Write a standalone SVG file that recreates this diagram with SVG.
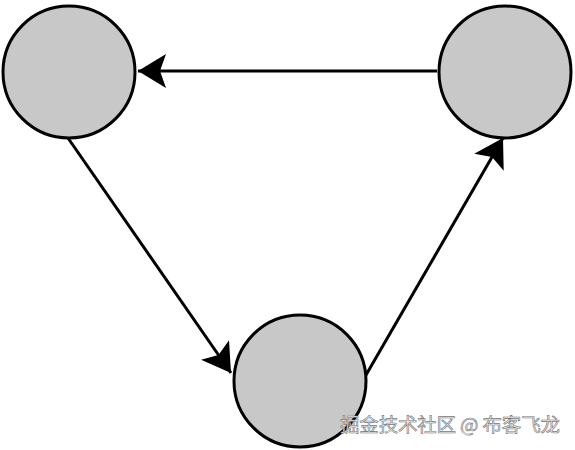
<svg xmlns="http://www.w3.org/2000/svg" width="575" height="450" viewBox="0 0 575 450">
<style>
.node{fill:#c8c8c8;stroke:#000;stroke-width:3}
.edge{fill:none;stroke:#000;stroke-width:3}
.wm{font-family:"Noto Sans CJK SC","Liberation Sans",sans-serif;font-size:19.5px;fill:#ececec;stroke:#777;stroke-width:0.6}
</style>
<defs>
<marker id="dart" markerUnits="userSpaceOnUse" markerWidth="40" markerHeight="40" viewBox="-30 -20 40 40" refX="0" refY="0" orient="auto">
<path d="M0,0 L-28,-17 L-22,0 L-28,17 Z" fill="#000"/>
</marker>
</defs>
<rect width="575" height="450" fill="#fff"/>
<g id="edges">
<line class="edge" x1="437" y1="71" x2="138" y2="71" marker-end="url(#dart)"/>
<line class="edge" x1="68" y1="138" x2="231" y2="373" marker-end="url(#dart)"/>
<line class="edge" x1="366" y1="375" x2="503" y2="138" marker-end="url(#dart)"/>
</g>
<g id="node-left"><circle class="node" cx="69" cy="72" r="66"/></g>
<g id="node-right"><circle class="node" cx="505" cy="72" r="66"/></g>
<g id="node-bottom"><circle class="node" cx="300" cy="381" r="66"/></g>
<text class="wm" x="340" y="432" textLength="220" lengthAdjust="spacing">掘金技术社区 @ 布客飞龙</text>
</svg>
